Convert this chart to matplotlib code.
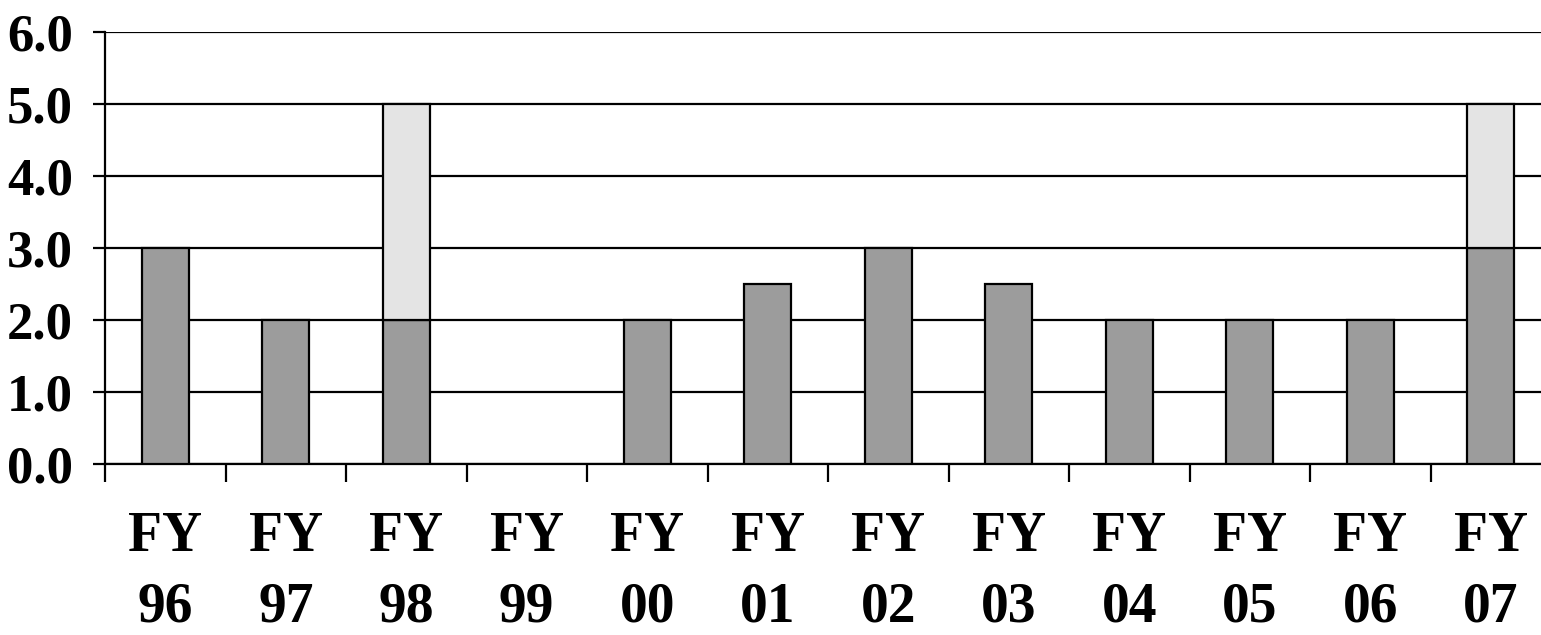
#!/usr/bin/env python3
"""Stacked bar chart by fiscal year, FY96 - FY07."""

import matplotlib
matplotlib.use("Agg")
import matplotlib.pyplot as plt
import numpy as np

# Data
years = ["FY\n96", "FY\n97", "FY\n98", "FY\n99", "FY\n00", "FY\n01",
         "FY\n02", "FY\n03", "FY\n04", "FY\n05", "FY\n06", "FY\n07"]
base_values = [3.0, 2.0, 2.0, 0.0, 2.0, 2.5, 3.0, 2.5, 2.0, 2.0, 2.0, 3.0]
top_values = [0.0, 0.0, 3.0, 0.0, 0.0, 0.0, 0.0, 0.0, 0.0, 0.0, 0.0, 2.0]
y_ticks = [0.0, 1.0, 2.0, 3.0, 4.0, 5.0, 6.0]

# Styling
FONT = "Liberation Serif"
DARK_FILL = "#9c9c9c"
LIGHT_FILL = "#e4e4e4"
LINE = "black"

fig = plt.figure(figsize=(15.41, 6.35), dpi=100)
fig.patch.set_facecolor("white")
# axes run past the right edge, as in the cropped original
ax = fig.add_axes([105 / 1541, 171 / 635, 1446 / 1541, 432 / 635])

x = np.arange(len(years))
base = np.array(base_values)
top = np.array(top_values)
width = 0.39

# only draw non-empty segments (FY99 has no bar at all)
m = base > 0
ax.bar(x[m], base[m], width, color=DARK_FILL, edgecolor=LINE, linewidth=1.6, zorder=3)
m = top > 0
ax.bar(x[m], top[m], width, bottom=base[m], color=LIGHT_FILL,
       edgecolor=LINE, linewidth=1.6, zorder=3)

ax.set_xlim(-0.5, len(years) - 0.5)
ax.set_ylim(0, 6)

# y axis
ax.set_yticks(y_ticks)
ax.set_yticklabels([f"{v:.1f}" for v in y_ticks])
ax.yaxis.grid(True, color=LINE, linewidth=1.6, zorder=0)
ax.set_axisbelow(True)
ax.tick_params(axis="y", direction="out", length=9, width=1.6, pad=14)

# x axis: labels at centres, tick marks between categories
ax.set_xticks(x)
ax.set_xticklabels(years, linespacing=1.45)
ax.set_xticks(np.arange(len(years)) - 0.5, minor=True)
ax.tick_params(axis="x", which="major", length=0, pad=34)
ax.tick_params(axis="x", which="minor", direction="out", length=13, width=1.6)

for lbl in ax.get_xticklabels():
    lbl.set_fontfamily(FONT)
    lbl.set_fontweight("bold")
    lbl.set_fontsize(40)
for lbl in ax.get_yticklabels():
    lbl.set_fontfamily(FONT)
    lbl.set_fontweight("bold")
    lbl.set_fontsize(38)

for side in ["top", "right"]:
    ax.spines[side].set_visible(False)
for side in ["left", "bottom"]:
    ax.spines[side].set_linewidth(1.6)
    ax.spines[side].set_color(LINE)

fig.savefig("out.png", dpi=100, facecolor="white")
plt.close(fig)
